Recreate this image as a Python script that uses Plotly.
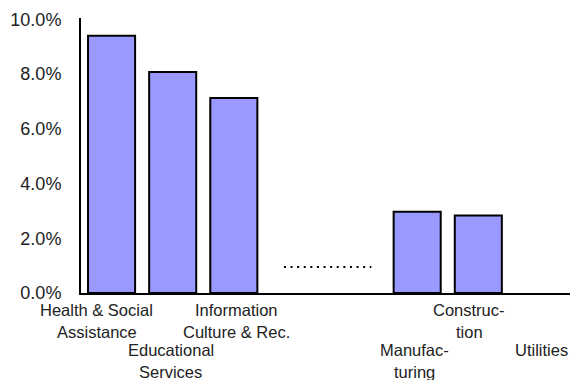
import plotly.graph_objects as go

# Data
categories = ["Health & Social<br>Assistance", "Educational<br>Services",
              "Information<br>Culture & Rec.", "", "",
              "Manufac-<br>turing", "Construc-<br>tion", "Utilities"]
values = [9.4, 8.08, 7.13, None, None, 2.97, 2.83, None]
label_level = [0, 1, 0, 0, 0, 1, 0, 1]
label_xshift = [-15, -2, 3, 0, 0, -3, -9, 2]
y_ticks = [0, 2, 4, 6, 8, 10]
y_tick_labels = ["0.0%", "2.0%", "4.0%", "6.0%", "8.0%", "10.0%"]

FONT = "Liberation Sans, Arial, sans-serif"
xs = list(range(len(categories)))

fig = go.Figure()
fig.add_trace(go.Bar(
    x=xs, y=values, width=0.77,
    marker=dict(color="#9999FF", line=dict(color="black", width=2)),
    showlegend=False, hoverinfo="skip",
))

# Dotted "break" marker between Information and Manufacturing
fig.add_shape(type="line", xref="x", yref="y", x0=2.82, x1=4.25, y0=0.95, y1=0.95,
              line=dict(color="black", width=2, dash="2px,4.6px"))

annotations = []
for i, (cat, lvl, dx) in enumerate(zip(categories, label_level, label_xshift)):
    if not cat:
        continue
    lines = cat.split("<br>")
    for j, line in enumerate(lines):
        annotations.append(dict(
            x=i, xref="x", y=0, yref="paper", yanchor="middle", xanchor="center",
            xshift=dx, yshift=-(17 + 41 * lvl + 22 * j) + (1 if lvl else 0),
            text=line, showarrow=False,
            font=dict(family=FONT, size=16.5, color="#222222"),
        ))

fig.update_layout(
    width=570, height=380,
    margin=dict(l=81, r=0, t=18, b=87),
    paper_bgcolor="white", plot_bgcolor="white",
    font=dict(family=FONT, size=16, color="#222222"),
    bargap=0.2,
    xaxis=dict(range=[-0.5, 7.5], showticklabels=False, ticks="", showgrid=False,
               zeroline=False, showline=True, linecolor="black", linewidth=2),
    yaxis=dict(range=[0, 10.05], tickvals=y_ticks, ticktext=y_tick_labels,
               showgrid=False, zeroline=False, showline=True, linecolor="black",
               linewidth=2, ticks="", ticklabelstandoff=14,
               tickfont=dict(family=FONT, size=18, color="#222222")),
    annotations=annotations,
)

fig.write_html("out.html")
